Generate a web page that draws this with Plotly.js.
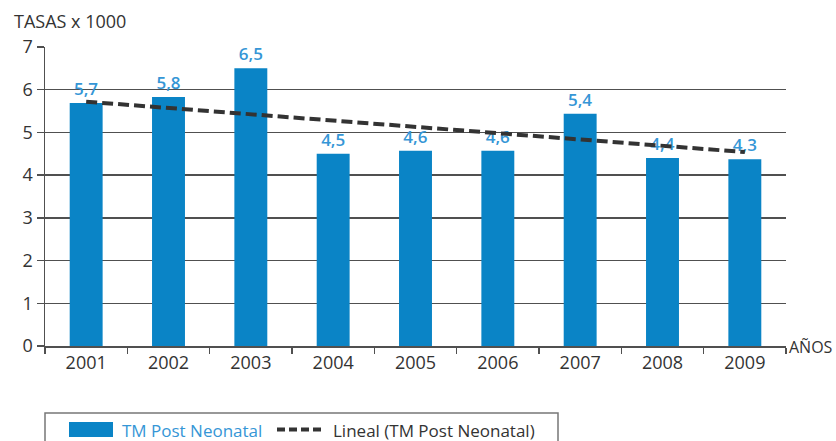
<!DOCTYPE html>
<html>
<head>
<meta charset="utf-8">
<script src="https://cdn.plot.ly/plotly-3.0.1.min.js"></script>
<style>
  html, body { margin: 0; padding: 0; background: #fff; }
  #chart { width: 836px; height: 441px; }
</style>
</head>
<body>
<div id="chart"></div>
<script>
// Data
const years = ['2001', '2002', '2003', '2004', '2005', '2006', '2007', '2008', '2009'];
const rates = [5.69, 5.83, 6.5, 4.5, 4.57, 4.57, 5.44, 4.4, 4.37];
const rateLabels = ['5,7', '5,8', '6,5', '4,5', '4,6', '4,6', '5,4', '4,4', '4,3'];
const trendYears = ['2001', '2009'];
const trendValues = [5.72, 4.54];
const yTicks = [0, 1, 2, 3, 4, 5, 6, 7];

const barColor = '#0a84c6';
const labelColor = '#3596d6';
const textColor = '#333333';
const gridColor = '#505050';
const fontFamily = '"Open Sans", "Noto Sans", sans-serif';

// plot area in pixels (for the hand-drawn legend)
const L = 45, R = 786, T = 47, B = 346;
const px = x => (x - L) / (R - L);
const py = y => (B - y) / (B - T);

const traces = [
  {
    type: 'bar',
    x: years,
    y: rates,
    width: 0.4,
    marker: { color: barColor, line: { width: 0 } },
    text: rateLabels,
    textposition: 'outside',
    textfont: { family: fontFamily, size: 17, color: labelColor, weight: 600 },
    cliponaxis: false,
    hoverinfo: 'x+y',
    name: 'TM Post Neonatal',
    showlegend: false
  },
  {
    type: 'scatter',
    mode: 'lines',
    x: trendYears,
    y: trendValues,
    line: { color: '#333333', width: 4, dash: '11px,5px' },
    name: 'Lineal (TM Post Neonatal)',
    showlegend: false,
    cliponaxis: false
  }
];

const layout = {
  width: 836,
  height: 441,
  margin: { l: L, r: 836 - R, t: T, b: 441 - B },
  paper_bgcolor: '#ffffff',
  plot_bgcolor: '#ffffff',
  font: { family: fontFamily, size: 18, color: textColor },
  showlegend: false,
  xaxis: {
    type: 'category',
    categoryorder: 'array',
    categoryarray: years,
    showline: true,
    linecolor: gridColor,
    linewidth: 1.5,
    ticks: 'outside',
    tickson: 'boundaries',
    ticklen: 6,
    tickcolor: gridColor,
    tickwidth: 1.5,
    showgrid: false,
    zeroline: false,
    tickfont: { size: 18, color: textColor },
    fixedrange: true
  },
  yaxis: {
    range: [0, 7],
    tickvals: yTicks,
    ticktext: yTicks.map(String),
    showline: true,
    linecolor: gridColor,
    linewidth: 1.5,
    ticks: 'outside',
    ticklen: 7,
    tickcolor: gridColor,
    tickwidth: 1.5,
    showgrid: true,
    gridcolor: gridColor,
    gridwidth: 1.5,
    zeroline: false,
    tickfont: { size: 18, color: textColor },
    fixedrange: true
  },
  shapes: [
    // legend box (runs off the bottom edge as in the reference)
    { type: 'rect', xref: 'paper', yref: 'paper', x0: px(45), x1: px(558), y0: py(413), y1: py(470),
      line: { color: '#777777', width: 1.5 }, fillcolor: 'rgba(0,0,0,0)' },
    // bar swatch
    { type: 'rect', xref: 'paper', yref: 'paper', x0: px(69), x1: px(113), y0: py(422), y1: py(437),
      line: { width: 0 }, fillcolor: barColor },
    // dashed line swatch
    { type: 'line', xref: 'paper', yref: 'paper', x0: px(277), x1: px(323), y0: py(429.5), y1: py(429.5),
      line: { color: '#333333', width: 4, dash: '8px,4px' } }
  ],
  annotations: [
    { text: 'TASAS x 1000', xref: 'paper', yref: 'paper', x: px(12), y: py(21),
      xanchor: 'left', yanchor: 'middle', showarrow: false, font: { size: 18, color: textColor } },
    { text: 'AÑOS', xref: 'paper', yref: 'paper', x: px(787), y: py(347),
      xanchor: 'left', yanchor: 'middle', showarrow: false, font: { size: 16, color: textColor } },
    { text: 'TM Post Neonatal', xref: 'paper', yref: 'paper', x: px(120), y: py(430),
      xanchor: 'left', yanchor: 'middle', showarrow: false, font: { size: 17, color: labelColor } },
    { text: 'Lineal (TM Post Neonatal)', xref: 'paper', yref: 'paper', x: px(331), y: py(430),
      xanchor: 'left', yanchor: 'middle', showarrow: false, font: { size: 17, color: textColor } }
  ]
};

Plotly.newPlot('chart', traces, layout, { displayModeBar: false, staticPlot: true });
</script>
</body>
</html>
